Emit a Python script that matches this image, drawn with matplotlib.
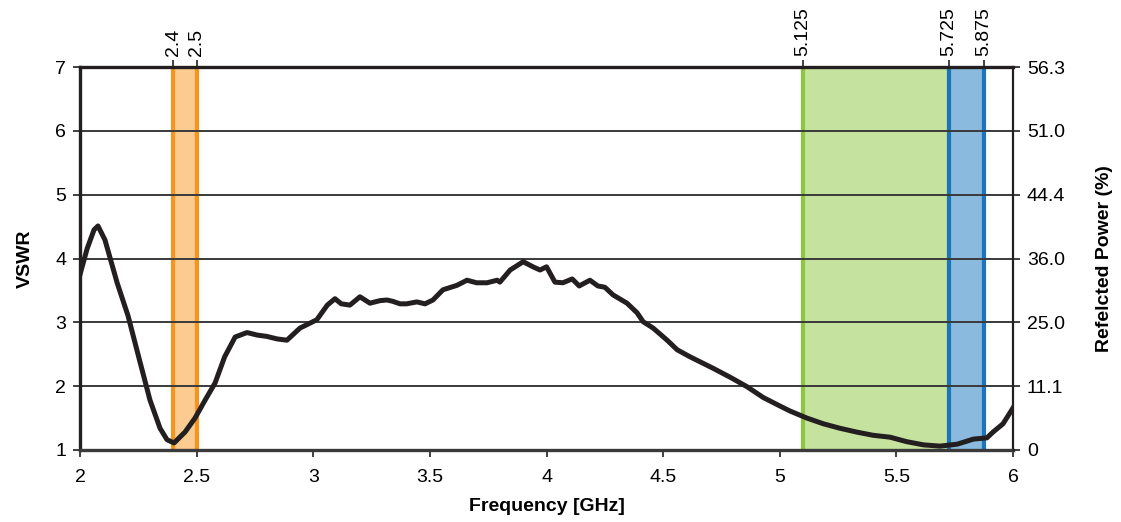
import matplotlib
matplotlib.use('Agg')
import matplotlib.pyplot as plt

plt.rcParams['font.family'] = ['Liberation Sans', 'DejaVu Sans']

# VSWR curve
freq = [2.0, 2.03, 2.06, 2.077, 2.107, 2.159, 2.206, 2.257, 2.30, 2.343, 2.373, 2.403,
        2.45, 2.493, 2.536, 2.579, 2.62, 2.665, 2.716, 2.76, 2.80, 2.845, 2.887, 2.943,
        3.015, 3.06, 3.093, 3.12, 3.157, 3.20, 3.243, 3.286, 3.316, 3.34, 3.372, 3.40,
        3.444, 3.479, 3.513, 3.556, 3.616, 3.659, 3.70, 3.745, 3.788, 3.80, 3.844, 3.90,
        3.942, 3.972, 4.0, 4.036, 4.07, 4.11, 4.14, 4.186, 4.22, 4.25, 4.285, 4.345,
        4.388, 4.414, 4.457, 4.517, 4.56, 4.615, 4.67, 4.714, 4.787, 4.86, 4.93, 5.0,
        5.044, 5.116, 5.187, 5.258, 5.33, 5.4, 5.473, 5.544, 5.616, 5.687, 5.76, 5.83,
        5.888, 5.914, 5.957, 5.995, 6.0]
vswr = [3.75, 4.15, 4.45, 4.51, 4.29, 3.62, 3.10, 2.38, 1.78, 1.34, 1.16, 1.11,
        1.28, 1.50, 1.78, 2.05, 2.46, 2.77, 2.84, 2.80, 2.78, 2.74, 2.72, 2.91,
        3.04, 3.27, 3.37, 3.29, 3.27, 3.40, 3.30, 3.34, 3.35, 3.33, 3.29, 3.29,
        3.32, 3.29, 3.35, 3.51, 3.58, 3.66, 3.62, 3.62, 3.66, 3.63, 3.82, 3.95,
        3.87, 3.82, 3.87, 3.63, 3.62, 3.68, 3.57, 3.66, 3.57, 3.55, 3.43, 3.30,
        3.15, 3.01, 2.91, 2.72, 2.57, 2.46, 2.36, 2.28, 2.14, 1.99, 1.82, 1.69,
        1.61, 1.50, 1.41, 1.34, 1.28, 1.23, 1.20, 1.13, 1.08, 1.06, 1.09, 1.17,
        1.19, 1.28, 1.41, 1.63, 1.66]

# bands: (start, end, edge colour, fill colour)
bands = [(2.4, 2.5, '#F7941D', '#FBCB90'),
         (5.1, 5.725, '#8DC63F', '#C6E29F'),
         (5.725, 5.875, '#1C75BC', '#8BBADF')]
band_ticks = [2.4, 2.5, 5.1, 5.725, 5.875]
band_labels = ['2.4', '2.5', '5.125', '5.725', '5.875']

vswr_ticks = [1, 2, 3, 4, 5, 6, 7]
power_labels = ['0', '11.1', '25.0', '36.0', '44.4', '51.0', '56.3']
freq_ticks = [2, 2.5, 3, 3.5, 4, 4.5, 5, 5.5, 6]
freq_labels = ['2', '2.5', '3', '3.5', '4', '4.5', '5', '5.5', '6']

fig = plt.figure(figsize=(11.21, 5.22), dpi=100)
ax = fig.add_axes([0.0714, 0.138, 0.8323, 0.7335])

for s, e, ec, fc in bands:
    ax.axvspan(s, e, color=fc, lw=0, zorder=0)
for s, e, ec, fc in bands:
    ax.axvline(s, color=ec, lw=3, zorder=1)
    ax.axvline(e, color=ec, lw=3, zorder=1)

for v in vswr_ticks[1:-1]:
    ax.axhline(v, color='#3a3a3a', lw=1.4, zorder=2)

ax.plot(freq, vswr, color='#231F20', lw=3.6, zorder=3, solid_joinstyle='round')

ax.set_xlim(2, 6)
ax.set_ylim(1, 7)
ax.set_xticks(freq_ticks)
ax.set_xticklabels(freq_labels)
ax.set_yticks(vswr_ticks)
ax.tick_params(axis='x', labelsize=14, length=5, width=1.2, color='#231F20', pad=9)
ax.tick_params(axis='y', labelsize=14, length=5, width=1.2, color='#231F20', pad=5)
ax.set_xlabel('Frequency [GHz]', fontsize=14, fontweight='bold', labelpad=8)
ax.set_ylabel('VSWR', fontsize=14, fontweight='bold', labelpad=15)

ax.spines['left'].set_linewidth(2.4)
ax.spines['left'].set_color('#231F20')
ax.spines['top'].set_linewidth(2.4)
ax.spines['top'].set_color('#231F20')
ax.spines['bottom'].set_linewidth(2.4)
ax.spines['bottom'].set_color('#3a3a3a')
ax.spines['right'].set_linewidth(1.6)
ax.spines['right'].set_color('#231F20')

ax2 = ax.twinx()
ax2.set_ylim(1, 7)
ax2.set_yticks(vswr_ticks)
ax2.set_yticklabels(power_labels)
ax2.tick_params(labelsize=14, length=5, width=1.2, color='#231F20', pad=5)
ax2.set_ylabel('Refelcted Power (%)', fontsize=14, fontweight='bold', labelpad=22)
for sp in ax2.spines.values():
    sp.set_visible(False)

ax3 = ax.twiny()
ax3.set_xlim(2, 6)
ax3.set_xticks(band_ticks)
ax3.set_xticklabels(band_labels, rotation=90)
ax3.tick_params(labelsize=14, length=5, width=1.2, color='#231F20', pad=3)
for sp in ax3.spines.values():
    sp.set_visible(False)

fig.savefig('out.png', dpi=100)
